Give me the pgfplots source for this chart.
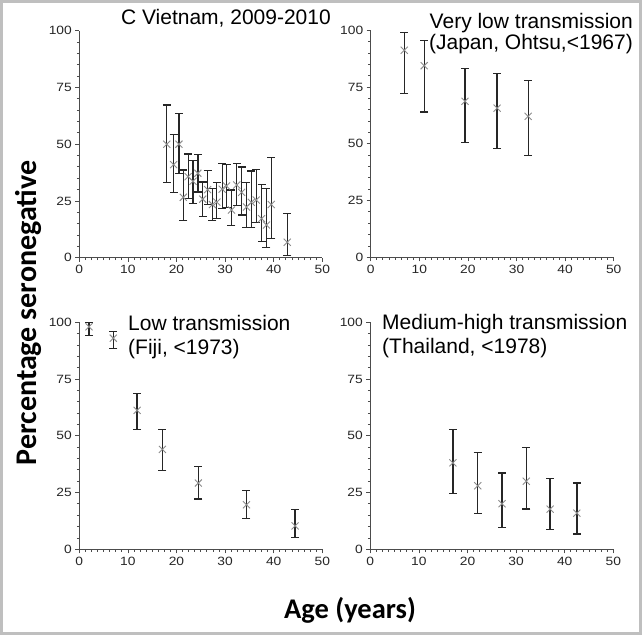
\documentclass[border=0pt]{standalone}
\usepackage{fontspec}
\setmainfont{Liberation Sans}
\newfontfamily\labfont{Carlito}
\usepackage{pgfplots}
\usepackage{pgfplotstable}
\pgfplotsset{compat=1.18}

% age, % seronegative, upper and lower CI
\pgfplotstableread{
x    y    hi   lo
18.0 50.0 67.3 33.0
19.4 41.0 54.3 28.6
20.5 50.0 63.5 37.0
21.4 26.6 38.6 16.5
22.4 35.7 45.7 26.0
23.4 33.7 42.7 24.0
24.4 37.2 45.6 29.0
25.4 25.8 33.4 18.2
26.4 30.0 38.3 23.4
27.4 23.4 30.6 16.5
28.3 24.5 33.0 17.2
29.4 30.2 41.4 21.6
30.3 31.6 41.0 22.0
31.3 21.0 29.8 14.3
32.4 32.0 41.5 23.0
33.4 28.8 40.0 18.8
34.4 22.3 33.0 13.3
35.4 24.4 38.2 13.3
36.4 25.4 38.9 15.5
37.5 17.2 32.3 7.0
38.5 14.4 30.6 4.6
39.5 23.4 44.0 8.5
42.8 6.8  19.6 1.0
}\vietnam

\pgfplotstableread{
x    y    hi   lo
6.9  91.2 99.0 72.1
11.0 84.4 95.6 64.0
19.4 68.7 83.1 50.6
26.0 65.7 81.0 47.8
32.4 62.1 77.8 44.9
}\japan

\pgfplotstableread{
x    y    hi    lo
2.0  98.0 100.0 94.1
7.0  93.0 95.9  88.5
11.9 61.2 68.7  52.8
17.1 44.0 52.7  34.8
24.5 29.2 36.6  22.1
34.4 19.6 26.0  13.7
44.4 10.3 17.4  5.2
}\fiji

\pgfplotstableread{
x    y    hi   lo
17.0 38.1 52.8 24.5
22.1 28.0 42.5 15.9
27.1 20.1 33.6 9.6
32.1 30.0 44.7 17.7
37.0 17.7 31.1 8.6
42.5 15.9 29.2 6.8
}\thailand

\pgfplotsset{
  panel/.style={
    scale only axis, width=243bp, height=227bp, anchor=south west,
    xmin=0, xmax=50, ymin=0, ymax=100,
    xtick={0,10,...,50}, ytick={0,25,...,100},
    minor x tick num=7, minor y tick num=4,
    axis x line*=bottom, axis y line*=left,
    tick align=outside, major tick length=4bp, minor tick length=2.5bp,
    axis line style={black!70, line width=0.8bp},
    every tick/.style={black!70, line width=0.8bp},
    ticklabel style={font=\fontsize{12bp}{14bp}\selectfont, text=black!85},
    xticklabel={\scalebox{1.15}[1]{\pgfmathprintnumber{\tick}}},
    yticklabel={\scalebox{1.15}[1]{\pgfmathprintnumber{\tick}}},
    /pgf/number format/assume math mode=true,
    clip=false,
  },
  pts/.style={only marks, mark=x, mark size=5bp,
    mark options={black!45, line width=0.9bp},
    error bars/.cd, y dir=both, y explicit,
    error bar style={black!85, line width=1.3bp},
    error mark options={rotate=90, black!85, line width=1.3bp, mark size=4bp}},
  /pgfplots/table/ci/.style={x=x, y=y,
    y error plus expr=\thisrow{hi}-\thisrow{y},
    y error minus expr=\thisrow{y}-\thisrow{lo}},
}

\begin{document}
\begin{tikzpicture}
\useasboundingbox (0,0) rectangle (642bp,635bp);
\draw[black!25, line width=3bp] (1.5bp,1.5bp) rectangle (640.5bp,633.5bp);

\begin{axis}[panel, at={(79.3bp,377.3bp)}]
\addplot[pts] table[ci] {\vietnam};
\end{axis}

\begin{axis}[panel, at={(370.7bp,377.7bp)}]
\addplot[pts] table[ci] {\japan};
\end{axis}

\begin{axis}[panel, at={(79.3bp,85.7bp)}]
\addplot[pts] table[ci] {\fiji};
\end{axis}

\begin{axis}[panel, at={(370.3bp,85.7bp)}]
\addplot[pts] table[ci] {\thailand};
\end{axis}

\begin{scope}[every node/.style={inner sep=0pt, font=\fontsize{21bp}{24bp}\selectfont}]
\node[anchor=base east] at (331bp,610bp) {C Vietnam, 2009-2010};
\node[anchor=base east] at (633bp,606.7bp) {Very low transmission};
\node[anchor=base east] at (633bp,585bp) {(Japan, Ohtsu,<1967)};
\node[anchor=base west] at (128bp,304.3bp) {Low transmission};
\node[anchor=base west] at (128bp,280bp) {(Fiji, <1973)};
\node[anchor=base west] at (382bp,305bp) {Medium-high transmission};
\node[anchor=base west] at (382bp,281.7bp) {(Thailand, <1978)};
\end{scope}

\node[rotate=90, font=\labfont\bfseries\fontsize{30bp}{34bp}\selectfont] at (28bp,322bp) {Percentage seronegative};
\node[font=\labfont\bfseries\fontsize{28.5bp}{32bp}\selectfont] at (350bp,25bp) {Age (years)};
\end{tikzpicture}
\end{document}
